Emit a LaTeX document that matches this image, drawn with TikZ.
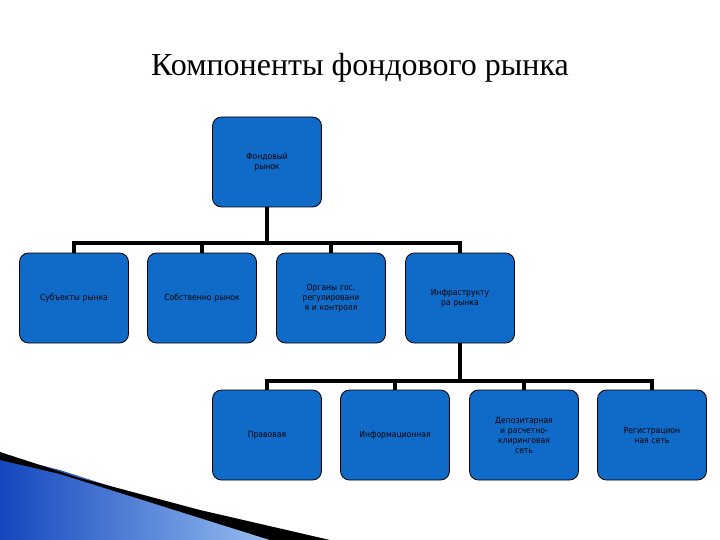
\documentclass[tikz,border=0pt]{standalone}
\usepackage{fontspec}
\setmainfont{Liberation Serif}
\newfontfamily\boxfont{DejaVu Sans Condensed}
\begin{document}
\begin{tikzpicture}[x=1pt,y=-1pt,
  bx/.style={draw=black,line width=0.8pt,fill={rgb,255:red,16;green,106;blue,200},rounded corners=9pt,minimum width=109pt,minimum height=90pt,align=center,font=\boxfont\fontsize{8.5}{10}\selectfont,text=black,inner sep=1pt,text width=107pt},
  con/.style={line width=3.5pt,black}]
\useasboundingbox (0,0) rectangle (720,540);
\fill[white] (0,0) rectangle (720,540);
% bottom-left decoration
\shade[left color={rgb,255:red,20;green,70;blue,190},right color={rgb,255:red,150;green,190;blue,240}] (0,455) -- (60,470) -- (200,515) -- (270,540) -- (0,540) -- cycle;
\fill[black] (0,452) -- (80,478) -- (200,510) -- (330,540) -- (270,540) -- (200,518) -- (60,474) -- (0,460) -- cycle;
\node[font=\fontsize{32}{36}\selectfont] (t) at (360,68) {Компоненты фондового рынка};
\node[bx] (r) at (267,162) {Фондовый\\рынок\\[42pt]};
\node[bx] (a) at (74,298) {Субъекты рынка};
\node[bx] (b) at (202,298) {Собственно рынок};
\node[bx] (c) at (331,298) {Органы гос.\\регулировани\\я и контроля};
\node[bx] (d) at (460,298) {Инфраструкту\\ра рынка\\[14pt]};
\node[bx] (e) at (267,435) {Правовая};
\node[bx] (f) at (395,435) {Информационная};
\node[bx] (g) at (524,435) {Депозитарная\\и расчетно-\\клиринговая\\сеть};
\node[bx] (h) at (652,435) {Регистрацион\\ная сеть\\[12pt]};
\coordinate (bus1) at (267,243);
\coordinate (bus2) at (460,381);
\draw[con] (r.south) -- (bus1);
\foreach \n in {a,b,c,d} \draw[con] (\n.north) |- (bus1);
\draw[con] (d.south) -- (bus2);
\foreach \n in {e,f,g,h} \draw[con] (\n.north) |- (bus2);
\end{tikzpicture}
\end{document}
